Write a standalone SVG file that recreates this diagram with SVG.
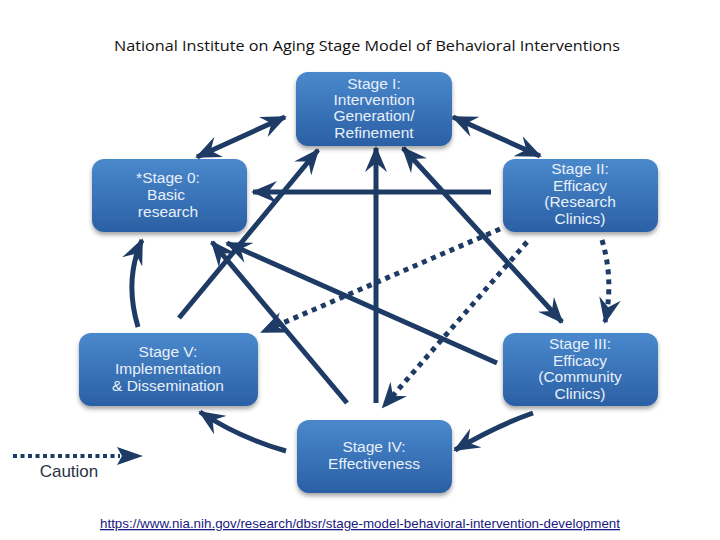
<svg xmlns="http://www.w3.org/2000/svg" width="720" height="540" viewBox="0 0 720 540">
<defs>
<linearGradient id="bg" x1="0" y1="0" x2="0" y2="1">
<stop offset="0" stop-color="#4a88cc"/>
<stop offset="1" stop-color="#2b60a5"/>
</linearGradient>
<filter id="sh" x="-10%" y="-10%" width="120%" height="130%">
<feDropShadow dx="0" dy="3" stdDeviation="2" flood-color="#000" flood-opacity="0.35"/>
</filter>
<marker id="ah" viewBox="0 0 26 22" refX="24" refY="11" markerWidth="26" markerHeight="22" markerUnits="userSpaceOnUse" orient="auto-start-reverse">
<path d="M0,0 L26,11 L0,22 L9,11 Z" fill="#1d3b64"/>
</marker>
</defs>
<style>
.box{fill:url(#bg);filter:url(#sh);}
.t{font-family:"Liberation Sans",Arial,sans-serif;font-size:15.5px;fill:#e8f0fa;text-anchor:middle;}
.ln{fill:none;stroke:#1d3b64;stroke-width:5;}
.dt{fill:none;stroke:#1d3b64;stroke-width:5;stroke-dasharray:5 5;}
</style>
<rect width="720" height="540" fill="#fff"/>
<text x="367" y="51" font-family="'Open Sans',sans-serif" font-size="14" fill="#111" text-anchor="middle" textLength="506" lengthAdjust="spacingAndGlyphs">National Institute on Aging Stage Model of Behavioral Interventions</text>

<g id="connectors">
<line class="ln" x1="197" y1="157" x2="285" y2="117" marker-start="url(#ah)" marker-end="url(#ah)"/>
<line class="ln" x1="453" y1="117" x2="540" y2="156" marker-start="url(#ah)" marker-end="url(#ah)"/>
<line class="ln" x1="491" y1="192" x2="253" y2="192" marker-end="url(#ah)"/>
<line class="ln" x1="376" y1="403" x2="376" y2="148" marker-end="url(#ah)"/>
<line class="ln" x1="179" y1="318" x2="318" y2="150" marker-end="url(#ah)"/>
<line class="ln" x1="403" y1="148" x2="562" y2="322" marker-start="url(#ah)" marker-end="url(#ah)"/>
<line class="ln" x1="347" y1="403" x2="212" y2="242" marker-end="url(#ah)"/>
<line class="ln" x1="497" y1="363" x2="227" y2="243" marker-end="url(#ah)"/>
<line class="dt" x1="500" y1="229" x2="262" y2="332" marker-end="url(#ah)"/>
<line class="dt" x1="527" y1="242" x2="383" y2="407" marker-end="url(#ah)"/>
<path class="dt" d="M602,240 Q614,280 605,322" marker-end="url(#ah)"/>
<path class="ln" d="M138,327 Q124,280 142,240" marker-end="url(#ah)"/>
<path class="ln" d="M533,413 Q498,425 455,450" marker-end="url(#ah)"/>
<path class="ln" d="M286,451 Q240,438 200,412" marker-end="url(#ah)"/>
</g>

<g id="stage1">
<rect class="box" x="296" y="72" width="156" height="74" rx="12"/>
<text class="t" x="374" y="89">Stage I:</text>
<text class="t" x="374" y="105">Intervention</text>
<text class="t" x="374" y="121">Generation/</text>
<text class="t" x="374" y="138">Refinement</text>
</g>
<g id="stage0">
<rect class="box" x="92" y="159" width="155" height="73" rx="12"/>
<text class="t" x="168" y="183">*Stage 0:</text>
<text class="t" x="166" y="200">Basic</text>
<text class="t" x="168" y="217">research</text>
</g>
<g id="stage2">
<rect class="box" x="503" y="159" width="155" height="73" rx="12"/>
<text class="t" x="580" y="174">Stage II:</text>
<text class="t" x="580" y="191">Efficacy</text>
<text class="t" x="580" y="207">(Research</text>
<text class="t" x="580" y="224">Clinics)</text>
</g>
<g id="stage5">
<rect class="box" x="79" y="333" width="179" height="73" rx="12"/>
<text class="t" x="168" y="357">Stage V:</text>
<text class="t" x="168" y="374">Implementation</text>
<text class="t" x="168" y="391">&amp; Dissemination</text>
</g>
<g id="stage3">
<rect class="box" x="503" y="333" width="155" height="73" rx="12"/>
<text class="t" x="580" y="349">Stage III:</text>
<text class="t" x="580" y="366">Efficacy</text>
<text class="t" x="580" y="382">(Community</text>
<text class="t" x="580" y="399">Clinics)</text>
</g>
<g id="stage4">
<rect class="box" x="297" y="420" width="155" height="73" rx="12"/>
<text class="t" x="374" y="452">Stage IV:</text>
<text class="t" x="374" y="469">Effectiveness</text>
</g>

<g id="legend">
<line x1="13" y1="456" x2="120" y2="456" stroke="#1d3b64" stroke-width="4" stroke-dasharray="4 3.5"/>
<path d="M117,447 L143,456 L117,465 L122,456 Z" fill="#1d3b64"/>
<text x="69" y="477" font-family="'Liberation Sans',Arial,sans-serif" font-size="17" fill="#2a3445" text-anchor="middle">Caution</text>
</g>

<text x="360" y="528" font-family="'Liberation Sans Narrow','Liberation Sans',sans-serif" font-size="13" fill="#1a1a80" text-anchor="middle" text-decoration="underline" textLength="520" lengthAdjust="spacingAndGlyphs">https://www.nia.nih.gov/research/dbsr/stage-model-behavioral-intervention-development</text>
</svg>
